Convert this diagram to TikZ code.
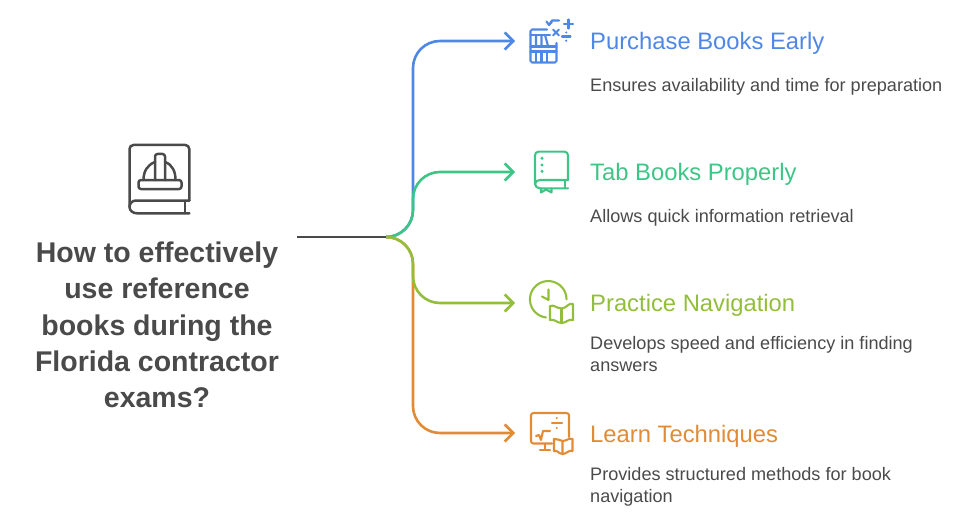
\documentclass[tikz,border=0pt]{standalone}
\usepackage{fontspec}
\setmainfont{Liberation Sans}
\usetikzlibrary{arrows.meta}
\definecolor{cblue}{HTML}{4F87E6}
\definecolor{cgreen}{HTML}{3DC585}
\definecolor{clime}{HTML}{93BE3C}
\definecolor{corange}{HTML}{E28B35}
\definecolor{cdark}{HTML}{4A4A4A}
\tikzset{
  x=1pt,y=-1pt,
  conn/.style={line width=2.6pt,-{Straight Barb[length=8.5pt,width=17pt,line width=2.6pt]}},
  stem/.style={line width=2.6pt,draw=cdark},
  ico/.style={line width=2.1pt,line cap=round,line join=round,fill=none},
  head/.style={anchor=base west,inner sep=0pt,font=\fontsize{23.8}{28}\selectfont},
  desc/.style={anchor=base west,inner sep=0pt,text=cdark,align=left,font=\fontsize{18.1}{22}\selectfont},
  title/.style={anchor=center,inner sep=0pt,text=cdark,align=center,font=\fontsize{28.5}{36.2}\selectfont\bfseries}
}
\begin{document}
\begin{tikzpicture}
\useasboundingbox (0,0) rectangle (980,516);
\coordinate (start) at (297,237);
\coordinate (hub) at (386,237);
\coordinate (t1) at (515,41);
\coordinate (t2) at (515,172);
\coordinate (t3) at (515,303);
\coordinate (t4) at (515,433);
% connectors
\draw[conn,cblue] (hub) to[out=0,in=-90] (413,210) -- (413,68) to[out=90,in=180] (440,41) -- (t1);
\draw[conn,corange] (hub) to[out=0,in=90] (413,264) -- (413,406) to[out=-90,in=180] (440,433) -- (t4);
\draw[conn,cgreen] (hub) to[out=0,in=-90] (413,210) -- (413,199) to[out=90,in=180] (440,172) -- (t2);
\draw[conn,clime] (hub) to[out=0,in=90] (413,264) -- (413,276) to[out=-90,in=180] (440,303) -- (t3);
\draw[stem] (start) -- (hub);
% title
\node[title] (q) at (157,325) {How to effectively\\use reference\\books during the\\Florida contractor\\exams?};
% texts
\node[head,text=cblue] (h1) at (590,50) {Purchase Books Early};
\node[desc] (d1) at (590,92) {Ensures availability and time for preparation};
\node[head,text=cgreen] (h2) at (590,181) {Tab Books Properly};
\node[desc] (d2) at (590,222) {Allows quick information retrieval};
\node[head,text=clime] (h3) at (590,311.5) {Practice Navigation};
\node[desc] (d3) at (590,371) {Develops speed and efficiency in finding\\answers};
\node[head,text=corange] (h4) at (590,442) {Learn Techniques};
\node[desc] (d4) at (590,502) {Provides structured methods for book\\navigation};
% main icon
\begin{scope}[ico,line width=2.5pt,draw=cdark]
\draw[rounded corners=4pt] (189.3,200.5) -- (189.3,145) -- (129.5,145) -- (129.5,207);
\draw (189.3,213.3) -- (137,213.3) to[out=180,in=-90] (129.5,207) to[out=90,in=180] (136,200.5) -- (189.3,200.5);
\draw (185,201) -- (185,213);
\draw[rounded corners=2.5pt] (138.5,180) rectangle (181.5,189);
\draw[rounded corners=2.5pt] (155,180) -- (155,154) -- (165,154) -- (165,180);
\draw (143.5,180) to[out=90,in=200] (155,162);
\draw (165,162) to[out=-20,in=90] (175.5,180);
\end{scope}
% icon 1
\begin{scope}[ico,draw=cblue]
\draw[rounded corners=1.5pt] (547,29.5) -- (530.5,29.5) -- (530.5,62.5) -- (556.5,62.5) -- (556.5,43);
\draw (530.5,46.5) -- (556.5,46.5);
\draw (536,36) -- (536,46) (541.5,36) -- (541.5,46) (545,35) -- (548,46);
\draw (536,52) -- (536,62) (541.5,52) -- (541.5,62) (547,52) -- (547,62);
\draw (530.5,35) -- (550,35);
\draw (530.5,51.5) -- (556.5,51.5);
\draw (559,20.5) -- (552,20.5) -- (549,25);
\draw (546.5,21.5) -- (549,25) -- (552,22);
\draw (553,29.5) -- (559,35.5) (559,29.5) -- (553,35.5);
\draw (564,24) -- (573,24) (568.5,19.5) -- (568.5,28.5);
\draw (562,36.5) -- (570.5,36.5);
\fill[cblue] (566.2,32.5) circle (1.2) (566.2,40.7) circle (1.2);
\end{scope}
% icon 2
\begin{scope}[ico,draw=cgreen]
\draw[rounded corners=3.5pt] (568,180) -- (568,151.7) -- (535,151.7) -- (535,184);
\draw (568,188.3) -- (540,188.3) to[out=180,in=-90] (535,184) to[out=90,in=180] (540,180) -- (568,180);
\draw (565,180.5) -- (565,188);
\draw (541,188.5) -- (541,192.5) -- (546,189.5) -- (551.5,192.5) -- (551.5,188.5);
\fill[cgreen] (542,158.3) circle (1.7) (542,165) circle (1.7) (542,171.3) circle (1.7);
\end{scope}
% icon 3
\begin{scope}[ico,draw=clime]
\draw (546,317.5) arc[start angle=97,end angle=360,radius=18.3];
\draw (548.5,289.5) -- (548.5,300) -- (542,296.5);
\draw (561.5,308.5) -- (561.5,322);
\draw (561.5,308.5) to[out=180,in=20] (550,306) -- (550,320) to[out=20,in=180] (561.5,323) to[out=0,in=160] (573,320) -- (573,304) to[out=160,in=0] (561.5,308.5);
\end{scope}
% icon 4
\begin{scope}[ico,draw=corange]
\draw[rounded corners=2.5pt] (569,437) -- (569,413) -- (531,413) -- (531,443.5) -- (552,443.5);
\draw (545,444) -- (545,450) (540,450) -- (550,450);
\draw (536,436) -- (539,435) -- (541,440) -- (543,431) -- (550,431);
\draw (552,423) -- (562,423);
\fill[corange] (556.8,418) circle (1.1) (556.8,428) circle (1.1);
\draw (562.5,441) to[out=180,in=20] (554,439) -- (554,451) to[out=20,in=180] (562.5,454) to[out=0,in=160] (572.5,451) -- (572.5,439) to[out=160,in=0] (562.5,441) -- (562.5,453);
\end{scope}
\end{tikzpicture}
\end{document}
